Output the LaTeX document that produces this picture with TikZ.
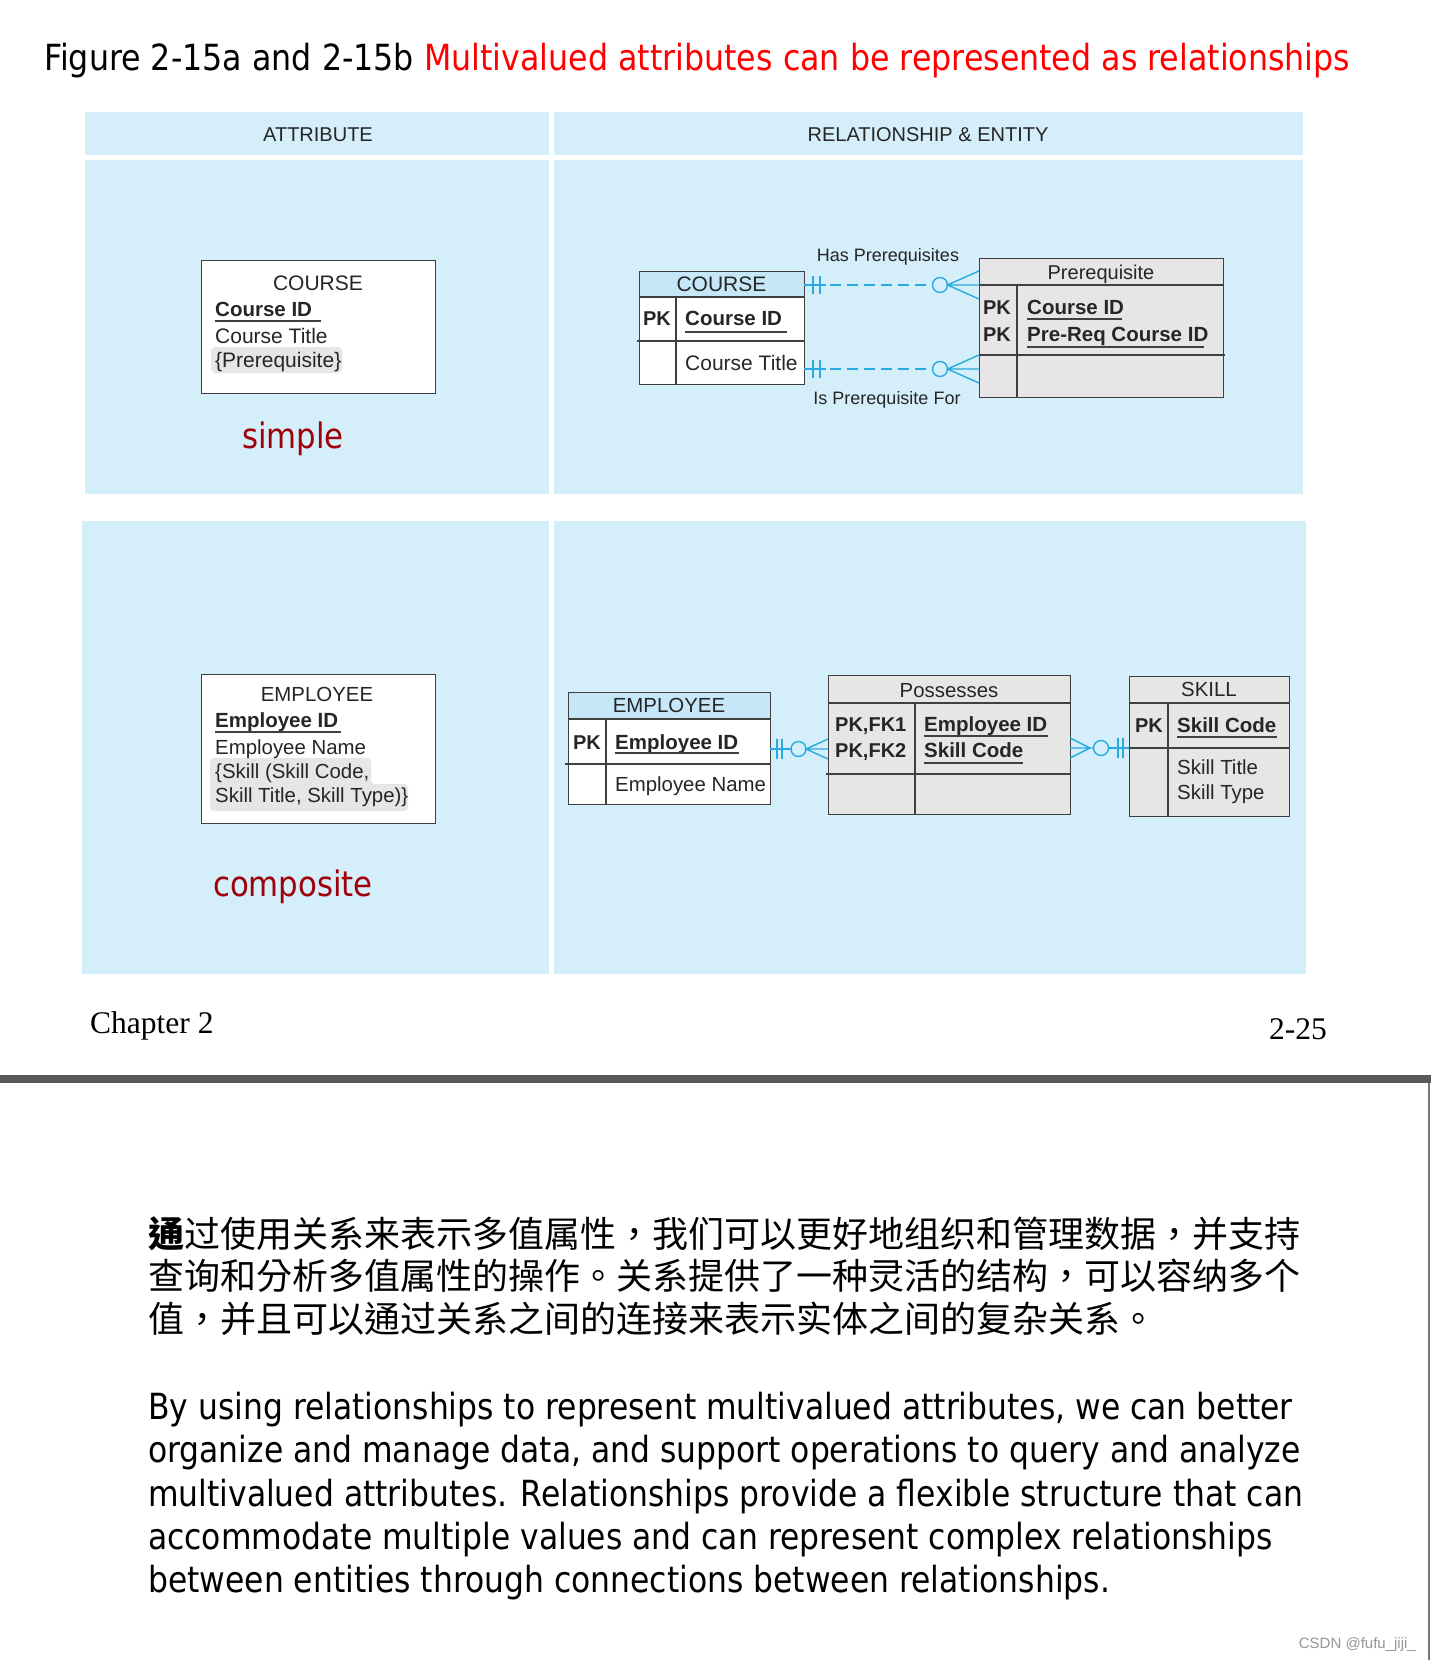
\documentclass[tikz,border=0pt]{standalone}
\usepackage{fontspec}
\setmainfont{Liberation Sans}
\newfontfamily\tah[FakeStretch=0.88]{DejaVu Sans}
\newfontfamily\tahp[FakeStretch=0.872]{DejaVu Sans}
\newfontfamily\cjk{Noto Sans CJK TC}
\newfontfamily\tms{Liberation Serif}
\newcommand\setfs[1]{\fontsize{#1pt}{#1pt}\selectfont}
\definecolor{panelc}{RGB}{212,238,250}
\definecolor{hdrc}{RGB}{197,231,248}
\definecolor{greyc}{RGB}{230,230,230}
\definecolor{hlc}{RGB}{230,230,230}
\definecolor{txtc}{RGB}{38,38,38}
\definecolor{bordc}{RGB}{64,64,64}
\definecolor{cyanc}{RGB}{41,171,226}
\definecolor{redc}{RGB}{160,0,10}
\definecolor{titred}{RGB}{255,0,0}
\definecolor{barc}{RGB}{89,89,89}
\definecolor{wmc}{RGB}{150,150,150}
\begin{document}
\begin{tikzpicture}[x=1pt,y=-1pt,
  tbl/.style={draw=bordc, line width=1.4pt, inner sep=0pt, anchor=north west},
  bord/.style={draw=bordc, line width=1.4pt},
  ul/.style={draw=bordc, line width=1.2pt},
  tx/.style={inner sep=0pt, text=txtc, font=\setfs{21}, anchor=base west},
  txs/.style={inner sep=0pt, text=txtc, font=\setfs{20.4}, anchor=base west},
  tb/.style={inner sep=0pt, text=txtc, font=\setfs{20.5}\bfseries, anchor=base west},
  tc/.style={inner sep=0pt, text=txtc, font=\setfs{21}, anchor=base},
  tcb/.style={inner sep=0pt, text=txtc, font=\setfs{20}\bfseries, anchor=base},
  lbl/.style={inner sep=0pt, text=txtc, font=\setfs{18}, anchor=base},
  conn/.style={draw=cyanc, line width=1.4pt},
  para/.style={inner sep=0pt, anchor=base west, text=black, font=\tahp\setfs{36}},
  cpara/.style={inner sep=0pt, anchor=base west, text=black, font=\cjk\setfs{36}}
]
\useasboundingbox (0,0) rectangle (1431,1660);
\fill[white] (0,0) rectangle (1431,1660);

% title
\node[anchor=base west, inner sep=0pt, font=\tah\setfs{36}] (title) at (44,70)
  {Figure 2-15a and 2-15b \textcolor{titred}{Multivalued attributes can be represented as relationships}};

% panels
\fill[panelc] (85,112) rectangle (549,155);
\fill[panelc] (554,112) rectangle (1303,155);
\fill[panelc] (85,160) rectangle (549,494);
\fill[panelc] (554,160) rectangle (1303,494);
\fill[panelc] (82,521) rectangle (549,974);
\fill[panelc] (554,521) rectangle (1306,974);
\node[tc, font=\setfs{20}] (hAttr) at (318,141) {ATTRIBUTE};
\node[tc, font=\setfs{20}] (hRel) at (928,141) {RELATIONSHIP \& ENTITY};

% ---------- top-left attribute box
\node[tbl, fill=white, minimum width=234pt, minimum height=133pt] (courseA) at (201,260) {};
\fill[hlc, rounded corners=4pt] (211,347) rectangle (342,373);
\node[tc] (cAname) at (318,290.5) {COURSE};
\node[tb] (cAid) at (215,316.5) {Course ID};
\draw[ul] (215,321) -- (321,321);
\node[tx] (cAtitle) at (215,343.5) {Course Title};
\node[tx] (cApre) at (215,367.5) {\{Prerequisite\}};
\node[anchor=base, inner sep=0pt, text=redc, font=\tah\setfs{35}] (simple) at (293,448) {simple};

% ---------- top-right COURSE table
\fill[white] (639,297) rectangle (804,384);
\fill[hdrc] (639,271) rectangle (804,297);
\node[tbl, minimum width=165pt, minimum height=113pt] (courseT) at (639,271) {};
\draw[bord] (639,297) -- (804,297) (637,341) -- (804,341) (676,297) -- (676,384);
\node[tc] (cTname) at (721.5,291.5) {COURSE};
\node[tcb] (cTpk) at (657,325) {PK};
\node[tb] (cTid) at (685,325) {Course ID};
\draw[ul] (685,332) -- (787,332);
\node[tx] (cTtitle) at (685,370) {Course Title};

% ---------- Prerequisite table
\fill[greyc] (979,258) rectangle (1223,397);
\node[tbl, minimum width=244pt, minimum height=139pt] (preT) at (979,258) {};
\draw[bord] (979,285) -- (1223,285) (979,355) -- (1225,355) (1017,285) -- (1017,397);
\node[tc, font=\setfs{20}] (pTname) at (1101,279) {Prerequisite};
\node[tcb] (pTpk1) at (997,314) {PK};
\node[tcb] (pTpk2) at (997,341) {PK};
\node[tb] (pTid) at (1027,314) {Course ID};
\draw[ul] (1027,319) -- (1122,319);
\node[tb] (pTpre) at (1027,341) {Pre-Req Course ID};
\draw[ul] (1027,347) -- (1204,347);

% connectors top
\coordinate (hasL) at (804,285);
\coordinate (hasR) at (979,285);
\coordinate (isL) at (804,369);
\coordinate (isR) at (979,369);
\foreach \yy/\a/\b in {285/hasL/hasR, 369/isL/isR}{
  \draw[conn] (\a) -- (826,\yy);
  \draw[conn, dash pattern=on 11pt off 6pt] (830,\yy) -- (932.5,\yy);
  \draw[conn] (813,\yy-9) -- (813,\yy+9) (820,\yy-9) -- (820,\yy+9);
  \draw[conn] (940,\yy) circle[radius=7.5pt];
  \draw[conn] (979,\yy-14) -- (947.5,\yy) -- (979,\yy+14) (947.5,\yy) -- (\b);
}
\node[lbl] (hasLbl) at (888,261.5) {Has Prerequisites};
\node[lbl] (isLbl) at (887,404.5) {Is Prerequisite For};

% ---------- bottom-left attribute box
\node[tbl, fill=white, minimum width=234pt, minimum height=149pt] (empA) at (201,674) {};
\fill[hlc, rounded corners=4pt] (210,758) -- (371,758) -- (371,784) -- (408,784) -- (408,811) -- (210,811) -- cycle;
\node[tc, font=\setfs{20.4}] (eAname) at (317,701.5) {EMPLOYEE};
\node[tb] (eAid) at (215,727) {Employee ID};
\draw[ul] (215,732) -- (341,732);
\node[txs] (eAnm) at (215,754.5) {Employee Name};
\node[txs] (eAs1) at (215,778.5) {\{Skill (Skill Code,};
\node[txs] (eAs2) at (215,802.5) {Skill Title, Skill Type)\}};
\node[anchor=base, inner sep=0pt, text=redc, font=\tah\setfs{35}] (composite) at (293,896) {composite};

% ---------- EMPLOYEE table
\fill[white] (568,719) rectangle (770,804);
\fill[hdrc] (568,692) rectangle (770,719);
\node[tbl, minimum width=202pt, minimum height=112pt] (empT) at (568,692) {};
\draw[bord] (568,719) -- (770,719) (565,764) -- (770,764) (606,719) -- (606,804);
\node[tc, font=\setfs{20.4}] (eTname) at (669,712.5) {EMPLOYEE};
\node[tcb] (eTpk) at (587,749) {PK};
\node[tb] (eTid) at (615,749) {Employee ID};
\draw[ul] (615,753) -- (739,753);
\node[txs] (eTnm) at (615,791) {Employee Name};

% ---------- Possesses table
\fill[greyc] (828,675) rectangle (1070,814);
\node[tbl, minimum width=242pt, minimum height=139pt] (posT) at (828,675) {};
\draw[bord] (828,703) -- (1070,703) (826,774) -- (1070,774) (915,703) -- (915,814);
\node[tc, font=\setfs{20.4}] (pSname) at (949,697) {Possesses};
\node[tb, font=\setfs{20}\bfseries] (pSk1) at (835,731) {PK,FK1};
\node[tb, font=\setfs{20}\bfseries] (pSk2) at (835,757) {PK,FK2};
\node[tb] (pSid) at (924,731) {Employee ID};
\draw[ul] (924,736) -- (1048,736);
\node[tb] (pSsc) at (924,757) {Skill Code};
\draw[ul] (924,763) -- (1023,763);

% ---------- SKILL table
\fill[greyc] (1129,676) rectangle (1289,816);
\node[tbl, minimum width=160pt, minimum height=140pt] (skT) at (1129,676) {};
\draw[bord] (1129,703) -- (1289,703) (1129,748) -- (1289,748) (1168,703) -- (1168,816);
\node[tc, font=\setfs{20.4}] (sKname) at (1209,696) {SKILL};
\node[tcb] (sKpk) at (1149,732) {PK};
\node[tb] (sKsc) at (1177,732) {Skill Code};
\draw[ul] (1177,737) -- (1277,737);
\node[txs] (sKst) at (1177,774.5) {Skill Title};
\node[txs] (sKty) at (1177,799.5) {Skill Type};

% connectors bottom
\coordinate (epL) at (770,749);
\coordinate (epR) at (828,749);
\draw[conn] (epL) -- (791,749);
\draw[conn] (777,739) -- (777,759) (782,739) -- (782,759);
\draw[conn] (798.5,749) circle[radius=7.5pt];
\draw[conn] (828,739) -- (806,749) -- (828,759) (806,749) -- (epR);

\coordinate (psL) at (1070,748);
\coordinate (psR) at (1129,748);
\draw[conn] (1070,738) -- (1090,748) -- (1070,758) (psL) -- (1093.5,748);
\draw[conn] (1101,748) circle[radius=7.5pt];
\draw[conn] (1108.5,748) -- (psR);
\draw[conn] (1118,738) -- (1118,758) (1123,738) -- (1123,758);

% ---------- footer
\node[anchor=base west, inner sep=0pt, font=\tms\setfs{31.5}] (chap) at (90,1033) {Chapter 2};
\node[anchor=base east, inner sep=0pt, font=\tms\setfs{31.5}] (pg) at (1327,1039) {2-25};
\fill[barc] (0,1075) rectangle (1431,1083);
\draw[line width=2pt, draw={rgb,255:red,120;green,120;blue,120}] (1428.5,1083) -- (1428.5,1660);

% ---------- Chinese paragraph
\node[cpara] (zh1) at (148,1247) {{\bfseries 通}过使用关系来表示多值属性，我们可以更好地组织和管理数据，并支持};
\node[cpara] (zh2) at (148,1289) {查询和分析多值属性的操作。关系提供了一种灵活的结构，可以容纳多个};
\node[cpara] (zh3) at (148,1332.5) {值，并且可以通过关系之间的连接来表示实体之间的复杂关系。};

% ---------- English paragraph
\node[para] (en1) at (148,1419) {By using relationships to represent multivalued attributes, we can better};
\node[para] (en2) at (148,1462.5) {organize and manage data, and support operations to query and analyze};
\node[para] (en3) at (148,1506) {multivalued attributes. Relationships provide a flexible structure that can};
\node[para] (en4) at (148,1549) {accommodate multiple values and can represent complex relationships};
\node[para] (en5) at (148,1592.5) {between entities through connections between relationships.};

\node[anchor=base east, inner sep=0pt, text=wmc, font=\setfs{15}] (wm) at (1416,1648) {CSDN @fufu\_jiji\_};
\end{tikzpicture}
\end{document}
